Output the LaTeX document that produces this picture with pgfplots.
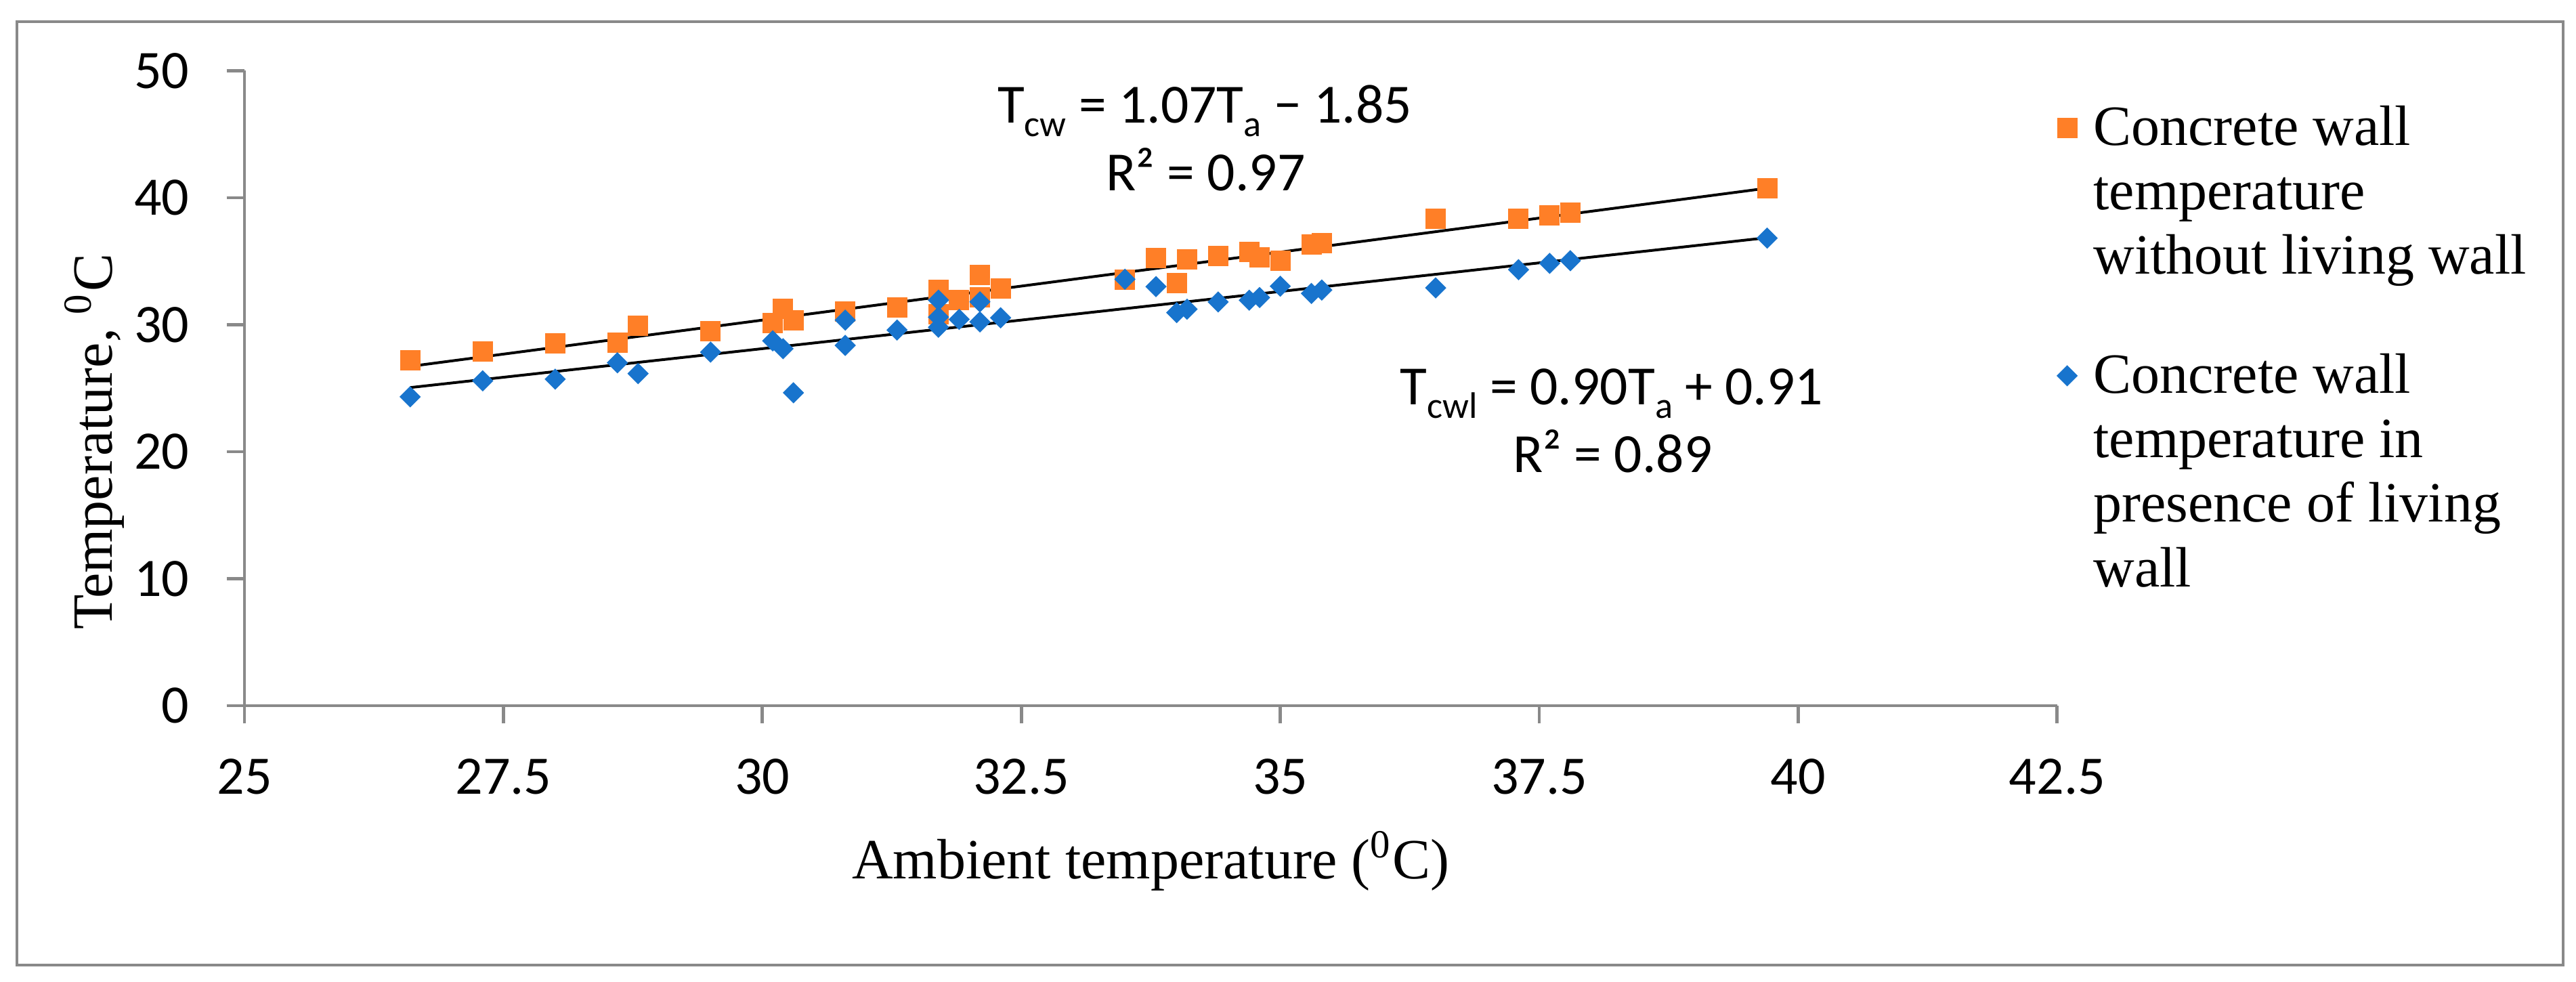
\documentclass[border=0pt]{standalone}
\usepackage{fontspec}
\setmainfont{Liberation Serif}
\newfontfamily\calibri{Carlito}
\usepackage{pgfplots}
\usepackage{pgfplotstable}
\pgfplotsset{compat=1.18}
\definecolor{axgray}{RGB}{137,137,137}
\definecolor{sqorange}{RGB}{255,127,39}
\definecolor{dmblue}{RGB}{24,116,205}
\pgfdeclareplotmark{sqdiamond}{%
  \pgfpathmoveto{\pgfqpoint{0pt}{\pgfplotmarksize}}%
  \pgfpathlineto{\pgfqpoint{\pgfplotmarksize}{0pt}}%
  \pgfpathlineto{\pgfqpoint{0pt}{-\pgfplotmarksize}}%
  \pgfpathlineto{\pgfqpoint{-\pgfplotmarksize}{0pt}}%
  \pgfpathclose
  \pgfusepathqfillstroke}
\pgfplotsset{mylegimg/.style={legend image code/.code={\draw[##1] plot coordinates {(0pt,3.2pt)};}}}
\pgfplotstableread{
x y
26.6 27.22
27.3 27.91
28.0 28.55
28.6 28.60
28.8 29.92
29.5 29.51
30.1 30.15
30.2 31.25
30.3 30.33
30.8 31.04
31.3 31.35
31.7 32.73
31.7 30.80
31.9 31.93
32.1 33.92
32.1 32.14
32.3 32.83
33.5 33.53
33.8 35.25
34.0 33.26
34.1 35.13
34.4 35.43
34.7 35.73
34.8 35.31
35.0 35.04
35.3 36.34
35.4 36.43
36.5 38.33
37.3 38.33
37.6 38.61
37.8 38.83
39.7 40.73
}\without
\pgfplotstableread{
x y
26.6 24.32
27.3 25.58
28.0 25.71
28.6 27.00
28.8 26.15
29.5 27.84
30.1 28.73
30.2 28.11
30.3 24.64
30.8 30.36
30.8 28.37
31.3 29.58
31.7 31.93
31.7 30.60
31.7 29.80
31.9 30.42
32.1 31.80
32.1 30.22
32.3 30.54
33.5 33.58
33.8 33.00
34.0 30.95
34.1 31.22
34.4 31.79
34.7 31.93
34.8 32.14
35.0 33.03
35.3 32.46
35.4 32.73
36.5 32.90
37.3 34.33
37.6 34.83
37.8 35.04
39.7 36.82
}\withlw
\begin{document}
\begin{tikzpicture}
\begin{axis}[
  scale only axis,
  width=334.6pt, height=117.2pt,
  xmin=25, xmax=42.5, ymin=0, ymax=50,
  xtick={25,27.5,30,32.5,35,37.5,40,42.5},
  ytick={0,10,20,30,40,50},
  axis lines*=left,
  axis line style={draw=axgray, line width=0.6pt, -},
  tick style={draw=axgray, line width=0.6pt},
  major tick length=3.3pt,
  tick align=outside,
  tick pos=left,
  /pgf/number format/assume math mode=true,
  tick label style={font=\calibri\fontsize{10}{12}\selectfont, inner sep=0pt},
  xticklabel style={anchor=north, yshift=-6.3pt},
  yticklabel style={anchor=east, xshift=-6.7pt},
  xlabel={Ambient temperature (\textsuperscript{0}C)},
  xlabel style={at={(axis description cs:0.5,-0.273)}, anchor=base, inner sep=0pt, font=\fontsize{10.5}{12}\selectfont},
  ylabel={Temperature, \textsuperscript{0}C},
  ylabel style={at={(axis description cs:-0.0729,0.416)}, anchor=base, inner sep=0pt, font=\fontsize{10.5}{12}\selectfont},
  legend style={draw=none, fill=none, at={(axis description cs:1,1)}, anchor=north west,
    xshift=-0.1pt, yshift=-5.2pt, inner sep=0pt, row sep=35.95pt, column sep=3.1pt,
    font=\fontsize{10.5}{11.9}\selectfont, cells={anchor=base west}, nodes={inner sep=0pt}},
]
\addplot[only marks, color=sqorange, mark=square*, mark size=1.725pt, mark options={solid, line width=0.3pt, draw=sqorange, fill=sqorange}, mylegimg]
  table[x=x,y=y] {\without};
\addlegendentry{\parbox[t]{95pt}{\strut Concrete wall\\temperature\\without living wall\strut}}
\addplot[only marks, color=dmblue, mark=sqdiamond, mark size=1.75pt, mark options={solid, line width=0.3pt, draw=dmblue, fill=dmblue}, mylegimg]
  table[x=x,y=y] {\withlw};
\addlegendentry{\parbox[t]{95pt}{\strut Concrete wall\\temperature in\\presence of living\\wall\strut}}
\addplot[black, line width=0.5pt, forget plot] coordinates {(26.6,26.72) (39.7,40.75)};
\addplot[black, line width=0.5pt, forget plot] coordinates {(26.6,25.05) (39.7,36.85)};
\node[anchor=base, inner sep=0pt, font=\calibri\fontsize{10.2}{12}\selectfont] at (axis cs:34.27,45.88)
  {T\raisebox{-2.5pt}{\fontsize{6.8}{8}\selectfont cw} = 1.07T\raisebox{-2.5pt}{\fontsize{6.8}{8}\selectfont a} − 1.85};
\node[anchor=base, inner sep=0pt, font=\calibri\fontsize{10.2}{12}\selectfont] at (axis cs:34.28,40.53)
  {R² = 0.97};
\node[anchor=base, inner sep=0pt, font=\calibri\fontsize{10.2}{12}\selectfont] at (axis cs:38.20,23.68)
  {T\raisebox{-2.5pt}{\fontsize{6.8}{8}\selectfont cwl} = 0.90T\raisebox{-2.5pt}{\fontsize{6.8}{8}\selectfont a} + 0.91};
\node[anchor=base, inner sep=0pt, font=\calibri\fontsize{10.2}{12}\selectfont] at (axis cs:38.21,18.35)
  {R² = 0.89};
\end{axis}
\draw[axgray, line width=0.6pt] (-42.0pt,-47.875pt) rectangle (428.0pt,126.25pt);
\pgfresetboundingbox
\path (-45.125pt,-51pt) rectangle (430.375pt,130.25pt);
\end{tikzpicture}
\end{document}
